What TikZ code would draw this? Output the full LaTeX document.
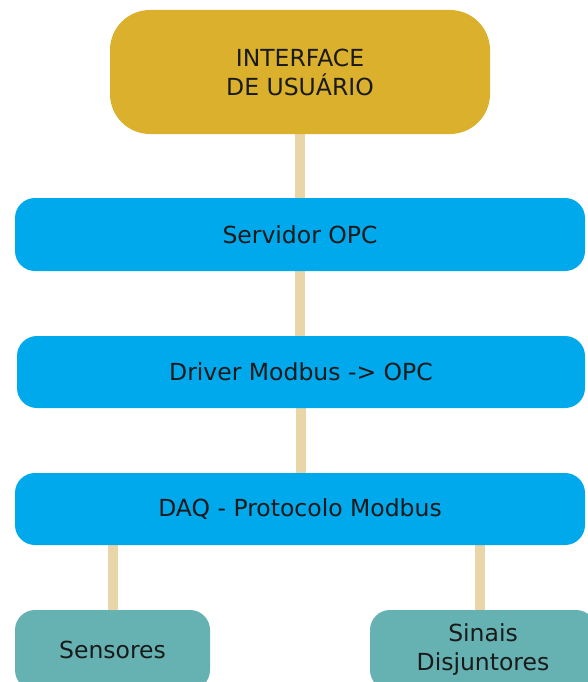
\documentclass[tikz,border=0pt]{standalone}
\usepackage{fontspec}
\setmainfont{DejaVu Sans}
\usetikzlibrary{backgrounds}
\definecolor{ouro}{HTML}{DAB02C}
\definecolor{azul}{HTML}{00A8EC}
\definecolor{verde}{HTML}{66B2B2}
\definecolor{elo}{HTML}{E8D5A8}
\definecolor{texto}{HTML}{1A1A1A}
\tikzset{
  caixa/.style={rectangle, rounded corners=20pt, text=texto, align=center,
    font=\fontsize{23.5}{29}\selectfont, inner sep=0pt},
  ligacao/.style={elo, line width=10pt}
}
\begin{document}
\begin{tikzpicture}[x=1pt,y=-1pt]
  \useasboundingbox (0,0) rectangle (588,682);
  \clip (0,0) rectangle (588,682);
  \node [caixa, fill=ouro, rounded corners=40pt, minimum width=380pt, minimum height=124pt] (iu) at (300,72) {INTERFACE\\DE USUÁRIO};
  \node [caixa, fill=azul, minimum width=570pt, minimum height=73pt] (opc) at (300,234.5) {Servidor OPC};
  \node [caixa, fill=azul, minimum width=568pt, minimum height=72pt] (drv) at (301,372) {Driver Modbus -> OPC};
  \node [caixa, fill=azul, minimum width=570pt, minimum height=72pt] (daq) at (300,509) {DAQ - Protocolo Modbus};
  \node [caixa, fill=verde, minimum width=195pt, minimum height=80pt] (sen) at (112.5,650) {Sensores};
  \node [caixa, fill=verde, minimum width=226pt, minimum height=80pt] (sin) at (483,650) {Sinais\\Disjuntores};
  \begin{scope}[on background layer]
    \draw [ligacao] (iu.south) -- (opc.north);
    \draw [ligacao] (opc.south) -- (drv.north -| opc.south);
    \draw [ligacao] (drv.south) -- (daq.north -| drv.south);
    \draw [ligacao] (daq.south -| sen.north) -- (sen.north);
    \draw [ligacao] (daq.south -| 480,0) -- (sin.north -| 480,0);
  \end{scope}
\end{tikzpicture}
\end{document}
